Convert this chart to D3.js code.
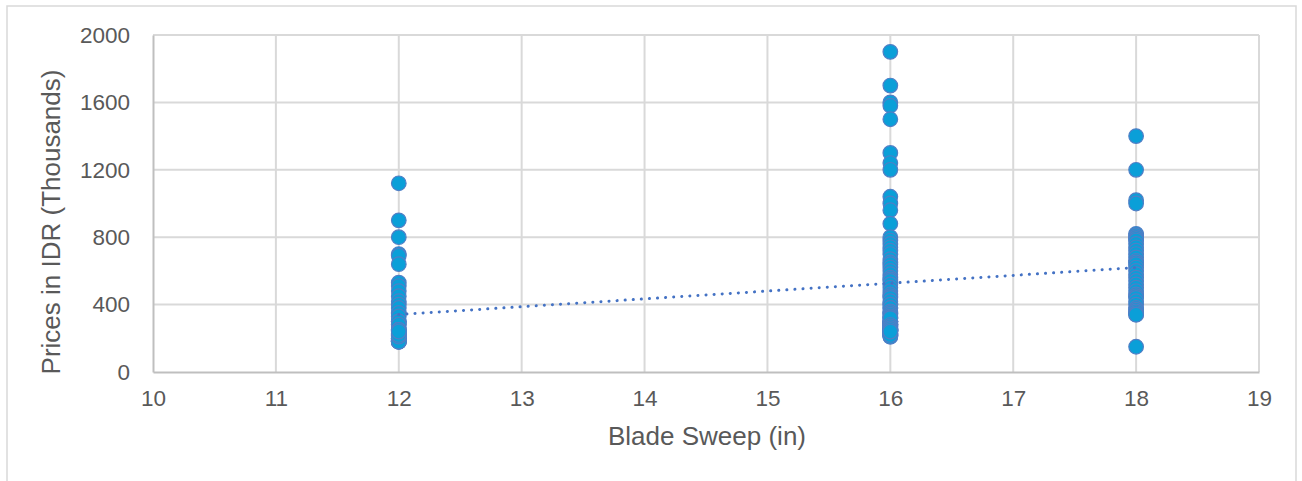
<!DOCTYPE html>
<html><head><meta charset="utf-8">
<script src="https://cdn.jsdelivr.net/npm/d3@7"></script>
<style>body{margin:0;background:#fff}svg{display:block;font-family:"Liberation Sans",Arial,sans-serif}</style>
</head><body><svg id="c" width="1302" height="481"></svg>
<script>
const xTicks = [10,11,12,13,14,15,16,17,18,19];
const yTicks = [0,400,800,1200,1600,2000];
const sweep12 = [1120,900,800,700,690,640,530,510,480,450,420,400,380,350,350,330,300,300,300,280,280,250,250,250,250,230,230,220,220,200,200,200,200,190,190,185,180,180,180,180,200,190,180,210,220,240];
const sweep16 = [1900,1700,1600,1580,1500,1300,1240,1200,1040,1000,960,880,
  800,780,760,740,720,700,670,650,640,620,600,580,560,550,540,520,500,480,460,450,
  440,420,400,400,380,380,360,350,350,340,330,320,320,300,300,300,300,290,280,280,280,270,260,250,250,250,250,240,240,230,230,220,220,220,210,210,
  260,250,240,230,220,300,320,280,270,260,250,240];
const sweep18 = [1400,1200,1020,1000,820,810,800,790,780,760,740,720,700,680,660,650,640,620,600,580,560,540,520,500,480,460,450,440,420,400,380,370,360,350,340,340,150];
const xTitle = "Blade Sweep (in)";
const yTitle = "Prices in IDR (Thousands)";

const points = [].concat(
  sweep12.map(v=>({x:12,y:v})),
  sweep16.map(v=>({x:16,y:v})),
  sweep18.map(v=>({x:18,y:v})));

const svg = d3.select("#c");
const L=153,R=1259,T=35,B=372;
const x = d3.scaleLinear().domain([10,19]).range([L,R]);
const y = d3.scaleLinear().domain([0,2000]).range([B,T]);

svg.append("rect").attr("x",7).attr("y",6).attr("width",1289).attr("height",490)
  .attr("fill","#fff").attr("stroke","#d9d9d9").attr("stroke-width",1.5);

// gridlines
svg.append("g").selectAll("line").data(yTicks.filter(d=>d>0)).join("line")
  .attr("x1",L).attr("x2",R).attr("y1",d=>y(d)).attr("y2",d=>y(d))
  .attr("stroke","#d9d9d9").attr("stroke-width",2);
svg.append("g").selectAll("line").data(xTicks.filter(d=>d>10)).join("line")
  .attr("y1",T).attr("y2",B).attr("x1",d=>x(d)).attr("x2",d=>x(d))
  .attr("stroke","#d9d9d9").attr("stroke-width",2);

// axes
const yAx = svg.append("g").attr("transform",`translate(${L},0)`)
  .call(d3.axisLeft(y).tickValues(yTicks).tickFormat(d3.format("d")).tickSize(0).tickPadding(23));
const xAx = svg.append("g").attr("transform",`translate(0,${B})`)
  .call(d3.axisBottom(x).tickValues(xTicks).tickFormat(d3.format("d")).tickSize(0).tickPadding(18));
[yAx,xAx].forEach(g=>{
  g.select(".domain").attr("stroke","#bfbfbf").attr("stroke-width",2);
  g.selectAll("text").attr("fill","#595959").style("font-size","22.5px").style("font-family","'Liberation Sans',Arial,sans-serif");
});
xAx.selectAll("text").attr("dy","0.71em");

// points
svg.append("g").selectAll("circle").data(points).join("circle")
  .attr("cx",d=>x(d.x)).attr("cy",d=>y(d.y)).attr("r",7.3)
  .attr("fill","#0a9fd8").attr("stroke","#4f7fc6").attr("stroke-width",1.2);

// linear trendline (least squares on all points)
const mx=d3.mean(points,d=>d.x), my=d3.mean(points,d=>d.y);
const slope=d3.sum(points,d=>(d.x-mx)*(d.y-my))/d3.sum(points,d=>(d.x-mx)**2);
const icpt=my-slope*mx;
const tx=[12,18];
svg.append("line")
  .attr("x1",x(tx[0])).attr("y1",y(icpt+slope*tx[0]))
  .attr("x2",x(tx[1])).attr("y2",y(icpt+slope*tx[1]))
  .attr("stroke","#4472c4").attr("stroke-width",3).attr("stroke-dasharray","0.1,8").attr("stroke-linecap","round");

svg.append("text").attr("x",707).attr("y",445).attr("text-anchor","middle")
  .attr("fill","#595959").style("font-size","26px").text(xTitle);
svg.append("text").attr("transform",`translate(60,222) rotate(-90)`).attr("text-anchor","middle")
  .attr("fill","#595959").style("font-size","26px").text(yTitle);
</script></body></html>
